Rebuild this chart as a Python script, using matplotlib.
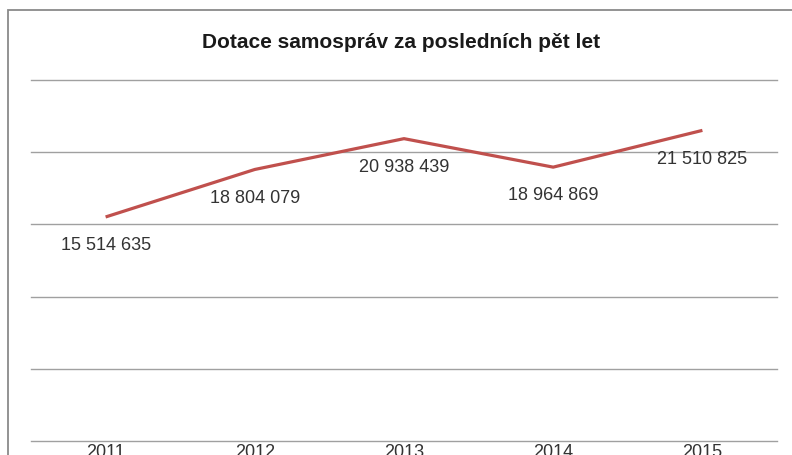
import matplotlib
matplotlib.use("Agg")
import matplotlib.pyplot as plt
from matplotlib.patches import Rectangle

years = ["2011", "2012", "2013", "2014", "2015"]
values = [15514635, 18804079, 20938439, 18964869, 21510825]
title = "Dotace samospráv za posledních pět let"
grid_ticks = [0, 5000000, 10000000, 15000000, 20000000, 25000000]

plt.rcParams['font.family'] = ['Liberation Sans', 'DejaVu Sans']

W, H = 792, 456
fig = plt.figure(figsize=(W / 100, H / 100), dpi=100)
fig.patch.set_facecolor('white')

# outer chart border (left and top visible)
fig.add_artist(Rectangle((8 / W, -0.1), 1.2, (H - 11) / H + 0.1, transform=fig.transFigure,
                         fill=False, edgecolor='#8a8a8a', linewidth=1.3))

left, right, top, bottom = 31, 777, 81, 442
ax = fig.add_axes([left / W, (H - bottom) / H, (right - left) / W, (bottom - top) / H])
x = list(range(len(years)))
ax.plot(x, values, color='#C0504D', linewidth=2.3, solid_capstyle='butt', zorder=3)

for xi, v in zip(x, values):
    ax.annotate(f"{v:,}".replace(",", " "), (xi, v), xytext=(0, -20), textcoords='offset points',
                ha='center', va='center', fontsize=13, color='#333333')

ax.set_xlim(-0.5, len(years) - 0.5)
ax.set_ylim(0, 25000000)
ax.set_yticks(grid_ticks)
ax.yaxis.grid(True, color='#a0a0a0', linewidth=1.0)
for gl in ax.get_ygridlines():
    gl.set_clip_on(False)
ax.set_axisbelow(True)
ax.tick_params(axis='y', left=False, labelleft=False)
ax.set_xticks(x)
ax.set_xticklabels(years, fontsize=13, color='#333333')
ax.tick_params(axis='x', length=0, pad=1.5)
for s in ax.spines.values():
    s.set_visible(False)

fig.text(0.5 * (left + right) / W - 0.004, 1 - 43 / H, title, ha='center', va='center',
         fontsize=15, fontweight='bold', color='#1a1a1a')

fig.savefig("out.png", dpi=100)
